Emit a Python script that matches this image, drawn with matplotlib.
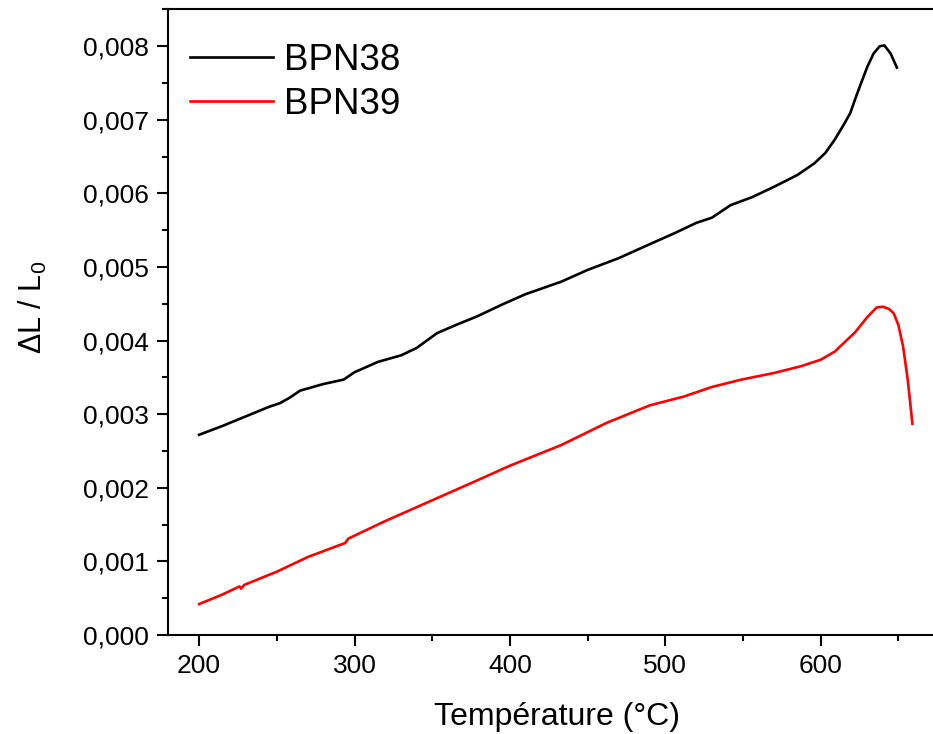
import numpy as np
import matplotlib
matplotlib.use("Agg")
import matplotlib.pyplot as plt
from matplotlib.ticker import MultipleLocator, FuncFormatter

plt.rcParams['font.family'] = ['Liberation Sans', 'DejaVu Sans']
plt.rcParams['mathtext.fontset'] = 'custom'
plt.rcParams['mathtext.rm'] = 'Liberation Sans'
plt.rcParams['mathtext.it'] = 'Liberation Sans'

# BPN38 (noir)
t38 = [200, 215, 230, 245, 252, 258, 265, 280, 293, 300, 315, 330, 340, 353,
       365, 379, 395, 410, 433, 450, 470, 490, 506, 520, 530, 542, 556, 570,
       585, 596, 603, 609, 615, 619, 623, 626, 630, 634, 638, 641, 645, 649]
v38 = [0.00272, 0.00284, 0.00297, 0.00310, 0.00315, 0.00322, 0.00332, 0.00341,
       0.00347, 0.00357, 0.00371, 0.00380, 0.00390, 0.00410, 0.00421, 0.00433,
       0.00449, 0.00463, 0.00480, 0.00496, 0.00512, 0.00531, 0.00546, 0.00560,
       0.00567, 0.00584, 0.00595, 0.00609, 0.00625, 0.00641, 0.00655, 0.00673,
       0.00694, 0.00709, 0.00733, 0.00750, 0.00772, 0.00790, 0.00800, 0.00801,
       0.00790, 0.00771]

# BPN39 (rouge)
t39 = [200, 215, 226, 227, 229, 250, 270, 294, 295, 296, 300, 320, 350, 380,
       400, 420, 433, 462, 490, 512, 530, 549, 570, 587, 600, 609, 616, 622,
       630, 636, 640, 644, 647, 650, 653, 656, 659]
v39 = [0.00042, 0.00055, 0.00066, 0.00063, 0.00068, 0.00086, 0.00106, 0.00125,
       0.00128, 0.00131, 0.00135, 0.00155, 0.00183, 0.00211, 0.00230, 0.00247,
       0.00258, 0.00288, 0.00312, 0.00324, 0.00337, 0.00347, 0.00356, 0.00365,
       0.00374, 0.00385, 0.00399, 0.00411, 0.00432, 0.00445, 0.00446, 0.00443,
       0.00437, 0.00421, 0.00392, 0.00347, 0.00287]

xticks = [200, 300, 400, 500, 600]


def virgule(v, pos):
    return f"{v:.3f}".replace('.', ',')


fig = plt.figure(figsize=(9.33, 7.34), dpi=100)
ax = fig.add_axes([0.1801, 0.1349, 1.0129 - 0.1801, 0.9872 - 0.1349])

ax.plot(t38, v38, color='black', lw=1.9, label='BPN38')
ax.plot(t39, v39, color='#ff0000', lw=1.9, label='BPN39')

ax.set_xlim(180, 680)
ax.set_ylim(0, 0.0085)
ax.set_xticks(xticks)
ax.xaxis.set_minor_locator(MultipleLocator(50))
ax.yaxis.set_major_locator(MultipleLocator(0.001))
ax.yaxis.set_minor_locator(MultipleLocator(0.0005))
ax.yaxis.set_major_formatter(FuncFormatter(virgule))

for s in ax.spines.values():
    s.set_linewidth(1.5)
ax.tick_params(which='major', direction='out', length=8, width=1.5,
               labelsize=19, pad=6)
ax.tick_params(which='minor', direction='out', length=4.5, width=1.5)

ax.set_xlabel('Température (°C)', fontsize=23, labelpad=17)
ax.set_ylabel(r'$\Delta$L / L$_0$', fontsize=22, labelpad=24)
ax.yaxis.label.set_y(0.523)

ax.legend(loc='upper left', bbox_to_anchor=(190 / 933, 1 - 43 / 734),
          bbox_transform=fig.transFigure, frameon=False, fontsize=26.5,
          handlelength=2.25, handletextpad=0.3, labelspacing=0.24,
          borderpad=0, borderaxespad=0)

fig.savefig('out.png', dpi=100)
